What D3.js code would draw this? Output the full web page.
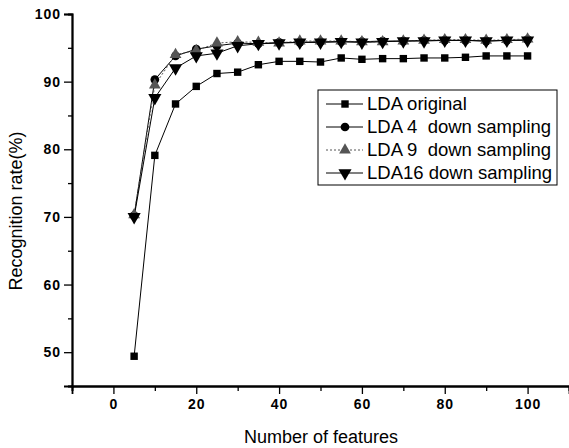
<!DOCTYPE html>
<html>
<head>
  <meta charset="UTF-8">
  <title>Recognition rate</title>
  <script src="https://d3js.org/d3.v7.min.js"></script>
  <style>
    body { margin: 0; background: #fff; }
    svg { display: block; font-family: "Liberation Sans", Arial, sans-serif; }
    .tick-label { font-weight: bold; font-size: 14px; letter-spacing: 1px; }
    .legend-text { white-space: pre; }
  </style>
</head>
<body>

<div class="chart"></div>

<script>

  // data
  var features = [5, 10, 15, 20, 25, 30, 35, 40, 45, 50, 55, 60, 65, 70, 75, 80, 85, 90, 95, 100];
  var ldaOriginal = [49.4, 79.1, 86.7, 89.3, 91.2, 91.4, 92.5, 93.0, 93.0, 92.9, 93.5, 93.3, 93.4, 93.4, 93.5, 93.5, 93.6, 93.8, 93.8, 93.8];
  var lda4 = [70.2, 90.3, 93.8, 94.8, 95.3, 95.7, 95.6, 95.8, 95.8, 95.9, 95.9, 95.9, 96.0, 96.0, 96.1, 96.1, 96.1, 96.0, 96.1, 96.2];
  var lda9 = [70.3, 89.5, 94.0, 94.6, 95.7, 95.9, 95.8, 95.7, 96.0, 96.0, 96.0, 95.9, 95.9, 96.0, 96.1, 96.2, 96.2, 96.1, 96.2, 96.3];
  var lda16 = [70.0, 87.6, 92.0, 93.8, 94.2, 95.3, 95.6, 95.7, 95.8, 95.8, 95.9, 95.8, 95.9, 96.0, 96.0, 96.1, 96.1, 96.0, 96.1, 96.1];
  var seriesNames = ['LDA original', 'LDA 4  down sampling', 'LDA 9  down sampling', 'LDA16 down sampling'];
  var xTicks = [0, 20, 40, 60, 80, 100];
  var xMinor = [-10, 10, 30, 50, 70, 90, 110];
  var yTicks = [50, 60, 70, 80, 90, 100];
  var yMinor = [45, 55, 65, 75, 85, 95];

  var W = 569, H = 448;
  var svg = d3.select('.chart').append('svg')
    .attr('width', W).attr('height', H);

  var x = d3.scaleLinear().domain([-10, 110]).range([72, 569]);
  var y = d3.scaleLinear().domain([45, 100]).range([386, 14]);

  // axes
  var xAxis = svg.append('g').attr('transform', `translate(0, ${y(45)})`);
  xAxis.call(d3.axisBottom(x).tickValues(xTicks).tickSize(8).tickPadding(5).tickFormat(d3.format('d')));
  xAxis.append('g').call(d3.axisBottom(x).tickValues(xMinor).tickSize(5).tickFormat(''));

  var yAxis = svg.append('g').attr('transform', `translate(${x(-10)}, 0)`);
  yAxis.call(d3.axisLeft(y).tickValues(yTicks).tickSize(8).tickPadding(3).tickFormat(d3.format('d')));
  yAxis.append('g').call(d3.axisLeft(y).tickValues(yMinor).tickSize(4).tickFormat(''));

  svg.selectAll('.domain').attr('stroke', '#000').attr('stroke-width', 1.8);
  svg.selectAll('.tick line').attr('stroke', '#000').attr('stroke-width', 1.3);
  svg.selectAll('.tick text').attr('class', 'tick-label').attr('fill', '#000')
    .attr('font-family', null).attr('font-size', null);

  // axis titles
  svg.append('text')
    .attr('x', 321).attr('y', 443)
    .attr('text-anchor', 'middle')
    .style('font-size', '18px')
    .text('Number of features');

  svg.append('text')
    .attr('transform', 'translate(22, 211) rotate(-90)')
    .attr('text-anchor', 'middle')
    .style('font-size', '18px')
    .text('Recognition rate(%)');

  // series
  var series = [
    { name: seriesNames[0], values: ldaOriginal, symbol: d3.symbolSquare, size: 55, color: '#000', dash: null },
    { name: seriesNames[1], values: lda4, symbol: d3.symbolCircle, size: 60, color: '#000', dash: null },
    { name: seriesNames[2], values: lda9, symbol: d3.symbolTriangle, size: 60, color: '#555', dash: '2,2' },
    { name: seriesNames[3], values: lda16, symbol: d3.symbolTriangle, size: 75, color: '#000', dash: null, flip: true }
  ];

  var line = d3.line()
    .x((d, i) => x(features[i]))
    .y(d => y(d));

  var plot = svg.append('g');

  series.forEach(s => {
    plot.append('path')
      .attr('d', line(s.values))
      .attr('fill', 'none')
      .attr('stroke', s.color)
      .attr('stroke-width', 1)
      .attr('stroke-dasharray', s.dash);
  });

  series.forEach(s => {
    plot.selectAll(null)
      .data(s.values)
      .enter()
      .append('path')
      .attr('d', d3.symbol().type(s.symbol).size(s.size))
      .attr('transform', (d, i) => `translate(${x(features[i])}, ${y(d)})` + (s.flip ? ' rotate(180)' : ''))
      .attr('fill', s.color);
  });

  // legend
  var legend = svg.append('g').attr('transform', 'translate(318, 90)');
  legend.append('rect')
    .attr('width', 239).attr('height', 95)
    .attr('fill', '#fff').attr('stroke', '#000').attr('stroke-width', 1);

  var rows = legend.selectAll('.row')
    .data(series)
    .enter()
    .append('g')
    .attr('transform', (d, i) => `translate(0, ${14 + i * 23})`);

  rows.append('line')
    .attr('x1', 8).attr('x2', 45)
    .attr('stroke', d => d.color)
    .attr('stroke-width', 1)
    .attr('stroke-dasharray', d => d.dash);

  rows.append('path')
    .attr('d', d => d3.symbol().type(d.symbol).size(d.size)())
    .attr('transform', d => 'translate(27, 0)' + (d.flip ? ' rotate(180)' : ''))
    .attr('fill', d => d.color);

  rows.append('text')
    .attr('class', 'legend-text')
    .attr('x', 49).attr('dy', '0.35em')
    .style('font-size', '18.5px')
    .text(d => d.name);

</script>

</body>
</html>
